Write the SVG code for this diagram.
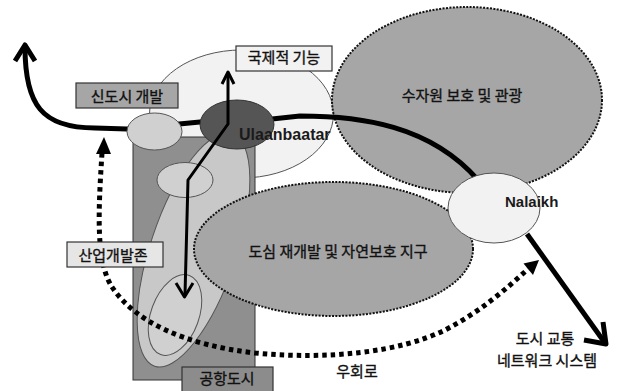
<svg xmlns="http://www.w3.org/2000/svg" width="617" height="391" viewBox="0 0 617 391">
<style>
.kr{font-family:"Noto Sans CJK KR","Noto Sans",sans-serif;font-size:15px;fill:#111;stroke:#111;stroke-width:0.35;text-anchor:middle}
.en{font-family:"Liberation Sans",Arial,sans-serif;font-weight:bold;fill:#1a1a1a}
.thin{stroke:#555;stroke-width:1}
.zone{fill:#a6a6a6;stroke:#111;stroke-width:2;stroke-dasharray:2 1.4}
.box{stroke:#333;stroke-width:1.2}
.road{fill:none;stroke:#000;stroke-linecap:butt;stroke-linejoin:round}
</style>
<rect width="617" height="391" fill="#fff"/>
<g id="intl-zone"><ellipse cx="241.5" cy="114" rx="92" ry="64" fill="#f2f2f2" class="thin"/></g>
<g id="airport-zone"><rect x="133" y="137" width="122" height="243" fill="#8f8f8f" stroke="#333" stroke-width="1"/></g>
<g id="industrial-zone"><ellipse cx="193.5" cy="250" rx="43" ry="122.5" transform="rotate(18.5 193.5 250)" fill="#c8c8c8" class="thin"/></g>
<g id="industrial-core"><ellipse cx="175" cy="315" rx="24" ry="42" transform="rotate(20 175 315)" fill="#d0d0d0" class="thin"/></g>
<g id="water-zone"><ellipse cx="467" cy="100" rx="135" ry="93" class="zone"/>
<text class="kr" x="462" y="101">수자원 보호 및 관광</text></g>
<g id="center-zone"><ellipse cx="333.5" cy="249" rx="139.5" ry="67" class="zone"/>
<text class="kr" x="338" y="257">도심 재개발 및 자연보호 지구</text></g>
<g id="connectors">
<path class="road" stroke-width="5" d="M25,47 C25,105 42,128 95,128 L127,129 L200,122 L272,119 L300,116 C360,116 430,125 478,180"/>
<path class="road" stroke-width="5" d="M15,61 L25,45 L35,61"/>
</g>
<g id="newtown-node"><ellipse cx="154.5" cy="131.5" rx="27.5" ry="18.5" fill="#d0d0d0" class="thin"/></g>
<g id="mid-node"><ellipse cx="185" cy="180" rx="28" ry="17.5" fill="#d0d0d0" class="thin"/></g>
<g id="ulaanbaatar"><ellipse cx="237" cy="124.5" rx="37" ry="24.5" fill="#555" stroke="#333" stroke-width="1"/></g>
<g id="nalaikh"><ellipse cx="494" cy="208" rx="46" ry="35" fill="#f2f2f2" class="thin"/></g>
<g id="connectors-top">
<path class="road" stroke-width="3" d="M228,74 L228,124 L188,180 L185,295"/>
<path class="road" stroke-width="3" d="M222,84 L228,72 L234,84"/>
<path class="road" stroke-width="3" d="M176,283 L184.5,297 L193,283"/>
<path class="road" stroke-width="5" d="M527,234 L605,343"/>
<path class="road" stroke-width="5" d="M584,340 L606,344 L603,322"/>
<path fill="none" stroke="#000" stroke-width="5" stroke-dasharray="4.5 4" d="M102,153 C98,215 96,262 112,287 C135,322 185,345 255,353 C330,360 400,352 445,330 C480,312 505,290 528,269"/>
<polygon points="104,137 96,154 111,154" fill="#000"/>
<polygon points="539,260 523.5,263.5 533,275" fill="#000"/>
</g>
<text class="en" x="239" y="140" font-size="16">Ulaanbaatar</text>
<text class="en" x="505" y="207" font-size="15">Nalaikh</text>
<g id="label-intl"><rect x="236" y="46" width="96" height="25" fill="#f2f2f2" class="box"/><text class="kr" x="284" y="63">국제적 기능</text></g>
<g id="label-newtown"><rect x="76" y="83" width="102" height="25" fill="#a6a6a6" class="box"/><text class="kr" x="127" y="102">신도시 개발</text></g>
<g id="label-industrial"><rect x="67" y="242" width="96" height="25" fill="#e6e6e6" class="box"/><text class="kr" x="113" y="261">산업개발존</text></g>
<g id="label-airport"><rect x="182" y="367" width="91" height="30" fill="#8c8c8c" class="box"/><text class="kr" x="227" y="384">공항도시</text></g>
<g id="label-bypass"><text class="kr" x="357" y="377">우회로</text></g>
<g id="label-network"><text class="kr" x="545" y="343.5">도시 교통</text><text class="kr" x="547" y="365.5">네트워크 시스템</text></g>
</svg>
